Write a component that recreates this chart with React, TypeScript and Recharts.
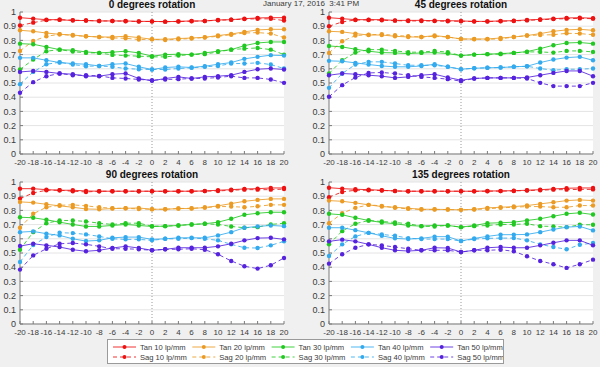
import React from "react";
import { LineChart, Line, XAxis, YAxis, CartesianGrid, ReferenceLine } from "recharts";

const xValues = [-20, -18, -16, -14, -12, -10, -8, -6, -4, -2, 0, 2, 4, 6, 8, 10, 12, 14, 16, 18, 20];
const xTicks = xValues;
const yTicks = [0, 0.1, 0.2, 0.3, 0.4, 0.5, 0.6, 0.7, 0.8, 0.9, 1];

const seriesNames = ["Tan 10 lp/mm", "Sag 10 lp/mm", "Tan 20 lp/mm", "Sag 20 lp/mm", "Tan 30 lp/mm", "Sag 30 lp/mm", "Tan 40 lp/mm", "Sag 40 lp/mm", "Tan 50 lp/mm", "Sag 50 lp/mm"];
const seriesKeys = ["t10", "s10", "t20", "s20", "t30", "s30", "t40", "s40", "t50", "s50"];
const seriesColors = ["#ee1111", "#ee1111", "#eb9b24", "#eb9b24", "#22c822", "#22c822", "#33aaee", "#33aaee", "#5522dd", "#5522dd"];

// 0 degrees
const p0Tan10 = [0.96, 0.953, 0.946, 0.946, 0.94, 0.94, 0.937, 0.937, 0.937, 0.934, 0.934, 0.932, 0.934, 0.937, 0.937, 0.944, 0.946, 0.953, 0.958, 0.96, 0.96];
const p0Sag10 = [0.905, 0.925, 0.943, 0.945, 0.943, 0.94, 0.937, 0.937, 0.935, 0.933, 0.933, 0.932, 0.933, 0.935, 0.937, 0.942, 0.945, 0.95, 0.952, 0.952, 0.94];
const p0Tan20 = [0.871, 0.864, 0.852, 0.843, 0.838, 0.829, 0.824, 0.824, 0.829, 0.82, 0.808, 0.808, 0.813, 0.817, 0.822, 0.834, 0.845, 0.86, 0.874, 0.878, 0.878];
const p0Sag20 = [0.726, 0.796, 0.829, 0.843, 0.834, 0.829, 0.824, 0.817, 0.815, 0.806, 0.808, 0.803, 0.808, 0.813, 0.82, 0.829, 0.84, 0.852, 0.855, 0.848, 0.82];
const p0Tan30 = [0.777, 0.773, 0.754, 0.735, 0.731, 0.719, 0.712, 0.717, 0.724, 0.712, 0.689, 0.7, 0.703, 0.7, 0.712, 0.724, 0.735, 0.763, 0.782, 0.789, 0.789];
const p0Sag30 = [0.595, 0.665, 0.724, 0.735, 0.721, 0.712, 0.712, 0.698, 0.693, 0.689, 0.684, 0.684, 0.693, 0.7, 0.703, 0.719, 0.735, 0.742, 0.747, 0.735, 0.7];
const p0Tan40 = [0.677, 0.677, 0.66, 0.644, 0.637, 0.632, 0.62, 0.632, 0.637, 0.614, 0.595, 0.609, 0.614, 0.609, 0.618, 0.632, 0.644, 0.67, 0.684, 0.696, 0.693];
const p0Sag40 = [0.492, 0.578, 0.632, 0.646, 0.63, 0.618, 0.62, 0.614, 0.602, 0.597, 0.595, 0.595, 0.602, 0.607, 0.614, 0.62, 0.637, 0.637, 0.642, 0.63, 0.602];
const p0Tan50 = [0.578, 0.585, 0.578, 0.567, 0.562, 0.548, 0.548, 0.562, 0.567, 0.532, 0.515, 0.532, 0.543, 0.532, 0.543, 0.548, 0.555, 0.578, 0.597, 0.602, 0.595];
const p0Sag50 = [0.431, 0.506, 0.548, 0.567, 0.555, 0.555, 0.55, 0.536, 0.532, 0.525, 0.52, 0.525, 0.527, 0.532, 0.532, 0.539, 0.548, 0.536, 0.536, 0.525, 0.501];

// 45 degrees
const p45Tan10 = [0.96, 0.953, 0.946, 0.946, 0.946, 0.941, 0.941, 0.941, 0.939, 0.939, 0.937, 0.934, 0.934, 0.937, 0.939, 0.944, 0.948, 0.953, 0.958, 0.96, 0.956];
const p45Sag10 = [0.9, 0.93, 0.944, 0.944, 0.942, 0.939, 0.937, 0.937, 0.936, 0.935, 0.935, 0.933, 0.933, 0.935, 0.937, 0.941, 0.945, 0.95, 0.953, 0.955, 0.953];
const p45Tan20 = [0.864, 0.86, 0.848, 0.838, 0.838, 0.829, 0.824, 0.824, 0.834, 0.824, 0.81, 0.81, 0.81, 0.817, 0.824, 0.834, 0.848, 0.864, 0.874, 0.878, 0.871];
const p45Sag20 = [0.712, 0.794, 0.834, 0.84, 0.843, 0.836, 0.829, 0.824, 0.829, 0.824, 0.81, 0.808, 0.808, 0.81, 0.824, 0.834, 0.838, 0.84, 0.85, 0.848, 0.84];
const p45Tan30 = [0.761, 0.754, 0.738, 0.724, 0.714, 0.712, 0.707, 0.712, 0.714, 0.707, 0.693, 0.7, 0.703, 0.707, 0.712, 0.721, 0.742, 0.766, 0.782, 0.785, 0.777];
const p45Sag30 = [0.567, 0.66, 0.714, 0.735, 0.735, 0.726, 0.717, 0.717, 0.726, 0.717, 0.693, 0.7, 0.703, 0.703, 0.712, 0.719, 0.719, 0.714, 0.726, 0.726, 0.719];
const p45Tan40 = [0.656, 0.653, 0.642, 0.63, 0.62, 0.614, 0.614, 0.62, 0.632, 0.614, 0.597, 0.604, 0.607, 0.609, 0.614, 0.618, 0.644, 0.665, 0.679, 0.684, 0.66];
const p45Sag40 = [0.466, 0.567, 0.63, 0.649, 0.649, 0.637, 0.625, 0.625, 0.625, 0.614, 0.597, 0.604, 0.607, 0.609, 0.614, 0.618, 0.602, 0.59, 0.597, 0.597, 0.602];
const p45Tan50 = [0.555, 0.567, 0.562, 0.555, 0.548, 0.536, 0.543, 0.555, 0.562, 0.539, 0.52, 0.532, 0.536, 0.536, 0.536, 0.539, 0.555, 0.571, 0.585, 0.585, 0.548];
const p45Sag50 = [0.403, 0.485, 0.539, 0.571, 0.574, 0.567, 0.555, 0.543, 0.536, 0.527, 0.513, 0.532, 0.536, 0.536, 0.536, 0.532, 0.501, 0.478, 0.478, 0.478, 0.501];

// 90 degrees
const p90Tan10 = [0.953, 0.953, 0.946, 0.942, 0.942, 0.937, 0.935, 0.935, 0.935, 0.935, 0.935, 0.935, 0.935, 0.935, 0.937, 0.942, 0.946, 0.951, 0.953, 0.958, 0.958];
const p90Sag10 = [0.883, 0.923, 0.942, 0.942, 0.935, 0.93, 0.935, 0.935, 0.935, 0.935, 0.935, 0.934, 0.935, 0.935, 0.936, 0.937, 0.942, 0.946, 0.946, 0.946, 0.95];
const p90Tan20 = [0.86, 0.855, 0.843, 0.832, 0.822, 0.81, 0.808, 0.813, 0.815, 0.817, 0.808, 0.808, 0.813, 0.813, 0.82, 0.832, 0.848, 0.864, 0.874, 0.881, 0.881];
const p90Sag20 = [0.678, 0.776, 0.822, 0.836, 0.839, 0.832, 0.822, 0.815, 0.815, 0.81, 0.808, 0.808, 0.813, 0.815, 0.82, 0.827, 0.827, 0.822, 0.829, 0.839, 0.839];
const p90Tan30 = [0.752, 0.748, 0.734, 0.717, 0.701, 0.687, 0.687, 0.694, 0.701, 0.694, 0.687, 0.689, 0.694, 0.701, 0.706, 0.717, 0.741, 0.769, 0.78, 0.787, 0.787];
const p90Sag30 = [0.523, 0.647, 0.71, 0.729, 0.729, 0.722, 0.71, 0.701, 0.71, 0.71, 0.689, 0.689, 0.694, 0.701, 0.706, 0.701, 0.687, 0.678, 0.682, 0.701, 0.71];
const p90Tan40 = [0.647, 0.652, 0.636, 0.624, 0.6, 0.584, 0.589, 0.607, 0.612, 0.612, 0.596, 0.6, 0.607, 0.607, 0.607, 0.624, 0.647, 0.678, 0.687, 0.694, 0.689];
const p90Sag40 = [0.437, 0.556, 0.612, 0.643, 0.64, 0.631, 0.617, 0.6, 0.596, 0.596, 0.589, 0.6, 0.6, 0.605, 0.6, 0.589, 0.561, 0.537, 0.535, 0.554, 0.582];
const p90Tan50 = [0.549, 0.565, 0.554, 0.542, 0.523, 0.512, 0.519, 0.535, 0.547, 0.535, 0.519, 0.526, 0.537, 0.537, 0.537, 0.547, 0.565, 0.589, 0.605, 0.607, 0.596];
const p90Sag50 = [0.383, 0.483, 0.53, 0.565, 0.57, 0.561, 0.547, 0.53, 0.53, 0.526, 0.519, 0.526, 0.526, 0.53, 0.523, 0.491, 0.444, 0.407, 0.39, 0.414, 0.465];

// 135 degrees
const p135Tan10 = [0.96, 0.953, 0.949, 0.946, 0.942, 0.937, 0.935, 0.935, 0.935, 0.935, 0.935, 0.935, 0.937, 0.937, 0.939, 0.942, 0.946, 0.951, 0.956, 0.958, 0.958];
const p135Sag10 = [0.893, 0.93, 0.942, 0.942, 0.94, 0.937, 0.935, 0.935, 0.935, 0.935, 0.935, 0.934, 0.935, 0.936, 0.937, 0.94, 0.942, 0.946, 0.946, 0.948, 0.948];
const p135Tan20 = [0.869, 0.864, 0.853, 0.839, 0.827, 0.822, 0.815, 0.808, 0.808, 0.806, 0.804, 0.808, 0.818, 0.822, 0.827, 0.834, 0.846, 0.857, 0.869, 0.874, 0.869];
const p135Sag20 = [0.71, 0.78, 0.818, 0.839, 0.832, 0.818, 0.811, 0.806, 0.806, 0.806, 0.804, 0.806, 0.811, 0.818, 0.822, 0.827, 0.827, 0.822, 0.822, 0.834, 0.834];
const p135Tan30 = [0.776, 0.769, 0.748, 0.729, 0.715, 0.706, 0.694, 0.689, 0.694, 0.694, 0.682, 0.694, 0.71, 0.713, 0.717, 0.729, 0.741, 0.759, 0.776, 0.783, 0.771];
const p135Sag30 = [0.561, 0.654, 0.706, 0.729, 0.722, 0.715, 0.706, 0.689, 0.687, 0.694, 0.682, 0.689, 0.694, 0.701, 0.701, 0.706, 0.689, 0.687, 0.682, 0.699, 0.699];
const p135Tan40 = [0.678, 0.678, 0.661, 0.642, 0.621, 0.603, 0.598, 0.603, 0.615, 0.615, 0.584, 0.603, 0.617, 0.629, 0.629, 0.631, 0.647, 0.666, 0.682, 0.687, 0.659];
const p135Sag40 = [0.479, 0.561, 0.617, 0.642, 0.631, 0.621, 0.605, 0.598, 0.598, 0.598, 0.584, 0.598, 0.603, 0.605, 0.605, 0.589, 0.561, 0.542, 0.526, 0.558, 0.57];
const p135Tan50 = [0.582, 0.594, 0.582, 0.561, 0.537, 0.519, 0.514, 0.519, 0.537, 0.535, 0.507, 0.519, 0.537, 0.542, 0.537, 0.537, 0.554, 0.572, 0.589, 0.589, 0.554];
const p135Sag50 = [0.425, 0.491, 0.537, 0.561, 0.554, 0.542, 0.53, 0.519, 0.519, 0.519, 0.507, 0.519, 0.519, 0.523, 0.512, 0.477, 0.444, 0.421, 0.395, 0.421, 0.453];

const panelTitles = ["0 degrees rotation", "45 degrees rotation", "90 degrees rotation", "135 degrees rotation"];
const panelSeries = [
  [p0Tan10, p0Sag10, p0Tan20, p0Sag20, p0Tan30, p0Sag30, p0Tan40, p0Sag40, p0Tan50, p0Sag50],
  [p45Tan10, p45Sag10, p45Tan20, p45Sag20, p45Tan30, p45Sag30, p45Tan40, p45Sag40, p45Tan50, p45Sag50],
  [p90Tan10, p90Sag10, p90Tan20, p90Sag20, p90Tan30, p90Sag30, p90Tan40, p90Sag40, p90Tan50, p90Sag50],
  [p135Tan10, p135Sag10, p135Tan20, p135Sag20, p135Tan30, p135Sag30, p135Tan40, p135Sag40, p135Tan50, p135Sag50],
];
const dateText = "January 17, 2016  3:41 PM";

const FONT = "'Liberation Sans', Arial, Helvetica, sans-serif";
const AXIS = "#7a7a7a";
const TEXT = "#3a3a3a";

function buildRows(series: number[][]) {
  return xValues.map((x, i) => {
    const row: Record<string, number> = { x };
    seriesKeys.forEach((k, j) => {
      row[k] = series[j][i];
    });
    return row;
  });
}

function Panel({ idx, left, top }: { idx: number; left: number; top: number }) {
  const isRight = idx % 2 === 1;
  const yW = isRight ? 29 : 20;
  const mRight = isRight ? 7 : 16;
  const rows = buildRows(panelSeries[idx]);
  const plotLeft = yW;
  const plotRight = 300 - mRight;
  return (
    <div style={{ position: "absolute", left, top, width: 300, height: 170 }}>
      <div
        style={{
          position: "absolute",
          left: plotLeft,
          width: plotRight - plotLeft,
          top: 0,
          textAlign: "center",
          fontSize: 10,
          fontWeight: "bold",
          color: "#111",
          fontFamily: FONT,
          lineHeight: "10px",
          zIndex: 2,
        }}
      >
        {panelTitles[idx]}
      </div>
      <LineChart width={300} height={170} data={rows} margin={{ top: 12, right: mRight, bottom: 0, left: 0 }}>
        <CartesianGrid vertical={false} stroke="#e4e4e4" fill="#ffffff" horizontalValues={yTicks} />
        <XAxis
          dataKey="x"
          type="number"
          domain={[-20, 20]}
          ticks={xTicks}
          interval={0}
          height={16}
          tickSize={-3}
          tickMargin={8}
          stroke={AXIS}
          tick={{ fontSize: 8, fill: TEXT, fontFamily: FONT }}
        />
        <XAxis
          xAxisId="top"
          orientation="top"
          dataKey="x"
          type="number"
          domain={[-20, 20]}
          ticks={xTicks}
          interval={0}
          height={0}
          tickSize={-3}
          tick={false}
          stroke={AXIS}
        />
        <YAxis
          type="number"
          domain={[0, 1]}
          ticks={yTicks}
          interval={0}
          width={yW}
          tickSize={-3}
          tickMargin={7}
          stroke={AXIS}
          tickFormatter={(v: number) => String(v)}
          tick={{ fontSize: 9, fill: TEXT, fontFamily: FONT }}
        />
        <YAxis
          yAxisId="right"
          orientation="right"
          type="number"
          domain={[0, 1]}
          ticks={yTicks}
          interval={0}
          width={0}
          tickSize={-3}
          tick={false}
          stroke={AXIS}
        />
        <ReferenceLine x={0} stroke="#9a9a9a" strokeDasharray="1 2" strokeWidth={1} />
        {seriesKeys.map((k, j) => (
          <Line
            key={k}
            dataKey={k}
            type="linear"
            stroke={seriesColors[j]}
            strokeWidth={1}
            strokeOpacity={0.85}
            strokeDasharray={k.startsWith("s") ? "4 3" : undefined}
            dot={{ r: 2.2, fill: seriesColors[j], stroke: "none" }}
            activeDot={false}
            isAnimationActive={false}
          />
        ))}
      </LineChart>
    </div>
  );
}

function LegendBox() {
  const colW = 79.3;
  return (
    <div
      style={{
        position: "absolute",
        left: 107,
        top: 339,
        width: 395,
        height: 23,
        background: "#fff",
        border: "1px solid #9a9a9a",
      }}
    >
      <svg width={395} height={23} style={{ display: "block" }}>
        {seriesNames.map((name, j) => {
          const col = Math.floor(j / 2);
          const row = j % 2;
          const x0 = 5 + col * colW;
          const y = 7 + row * 10;
          const dashed = row === 1;
          return (
            <g key={name}>
              <line
                x1={x0}
                x2={x0 + 23}
                y1={y}
                y2={y}
                stroke={seriesColors[j]}
                strokeWidth={1}
                strokeOpacity={0.85}
                strokeDasharray={dashed ? "4 3" : undefined}
              />
              <circle cx={x0 + 11.5} cy={y} r={2} fill={seriesColors[j]} />
              <text x={x0 + 27} y={y + 2.7} fontSize={7.6} fill={TEXT} fontFamily={FONT}>
                {name}
              </text>
            </g>
          );
        })}
      </svg>
    </div>
  );
}

export default function App() {
  return (
    <div
      style={{
        position: "fixed",
        left: 0,
        top: 0,
        width: 600,
        height: 367,
        background: "#f0f0f0",
        overflow: "hidden",
        fontFamily: FONT,
      }}
    >
      <Panel idx={0} left={0} top={0} />
      <Panel idx={1} left={300} top={0} />
      <Panel idx={2} left={0} top={170} />
      <Panel idx={3} left={300} top={170} />
      <div
        style={{
          position: "absolute",
          left: 263,
          top: -1,
          fontSize: 8,
          lineHeight: "10px",
          color: TEXT,
          fontFamily: FONT,
          whiteSpace: "pre",
          zIndex: 3,
        }}
      >
        {dateText}
      </div>
      <LegendBox />
    </div>
  );
}
